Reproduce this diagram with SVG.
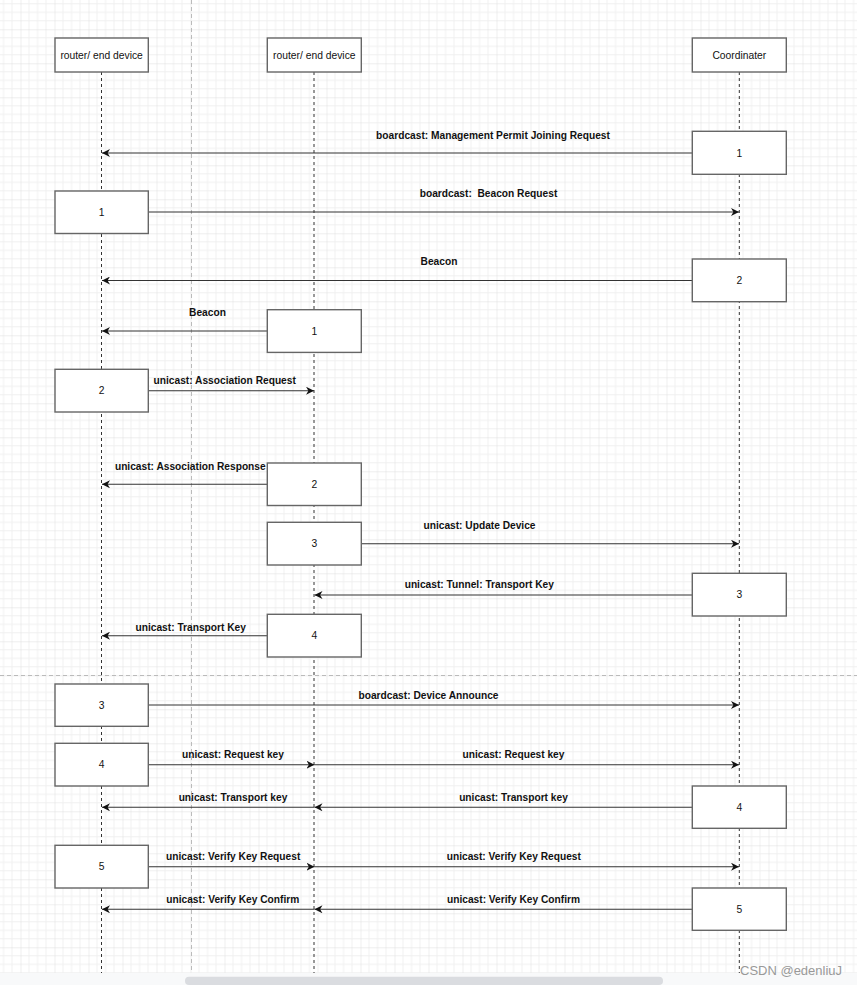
<svg xmlns="http://www.w3.org/2000/svg" width="857" height="985" viewBox="0 0 857 985">
<style>
.box{fill:#fff;stroke:#666;stroke-width:1.4}
.hdr{font-family:"Liberation Sans",Arial,sans-serif;font-size:10.3px;fill:#111;text-anchor:middle}
.num{font-family:"Liberation Sans",Arial,sans-serif;font-size:10.3px;fill:#111;text-anchor:middle}
.lbl{font-family:"Liberation Sans",Arial,sans-serif;font-size:10.2px;font-weight:bold;fill:#111;text-anchor:middle}
.life{stroke:#333;stroke-width:1;stroke-dasharray:3 3;fill:none}
.msg{stroke:#333;stroke-width:1.1;fill:none}
.page{stroke:#bbb;stroke-width:1;stroke-dasharray:4 3;fill:none}
</style>
<defs>
<pattern id="grid" patternUnits="userSpaceOnUse" x="20.5" y="29.3" width="34" height="34">
<path d="M8.5 0V34M17 0V34M25.5 0V34M0 8.5H34M0 17H34M0 25.5H34" stroke="#f0f0f0" stroke-width="1"/>
<path d="M0 0V34M0 0H34" stroke="#dedede" stroke-width="1"/>
</pattern>
<marker id="arr" viewBox="0 0 10 10" refX="10" refY="5" markerWidth="8" markerHeight="8" markerUnits="userSpaceOnUse" orient="auto">
<path d="M0 0L10 5L0 10L3 5Z" fill="#111"/>
</marker>
</defs>
<rect width="857" height="985" fill="#fff"/>
<rect width="857" height="973" fill="url(#grid)"/>
<line class="page" x1="191.5" y1="0" x2="191.5" y2="973"/>
<line class="page" x1="0" y1="675.5" x2="857" y2="675.5"/>

<g id="lifelines">
<line class="life" x1="101.5" y1="72" x2="101.5" y2="973"/>
<line class="life" x1="314" y1="72" x2="314" y2="973"/>
<line class="life" x1="739.3" y1="72" x2="739.3" y2="973"/>
</g>

<g id="connectors">
<line class="msg" x1="692" y1="153" x2="102" y2="153" marker-end="url(#arr)"/>
<text class="lbl" x="493" y="138.5">boardcast: Management Permit Joining Request</text>
<line class="msg" x1="148" y1="212" x2="739" y2="212" marker-end="url(#arr)"/>
<text class="lbl" x="488.5" y="197.3" xml:space="preserve">boardcast:  Beacon Request</text>
<line class="msg" x1="692" y1="280.5" x2="102" y2="280.5" marker-end="url(#arr)"/>
<text class="lbl" x="439" y="265.3">Beacon</text>
<line class="msg" x1="267" y1="331" x2="102" y2="331" marker-end="url(#arr)"/>
<text class="lbl" x="207.5" y="316.3">Beacon</text>
<line class="msg" x1="148" y1="390.7" x2="314" y2="390.7" marker-end="url(#arr)"/>
<text class="lbl" x="224.7" y="384.3">unicast: Association Request</text>
<line class="msg" x1="267" y1="484.3" x2="102" y2="484.3" marker-end="url(#arr)"/>
<text class="lbl" x="190.3" y="469.6">unicast: Association Response</text>
<line class="msg" x1="361" y1="543.7" x2="739" y2="543.7" marker-end="url(#arr)"/>
<text class="lbl" x="479.5" y="529.3">unicast: Update Device</text>
<line class="msg" x1="692" y1="595" x2="314.5" y2="595" marker-end="url(#arr)"/>
<text class="lbl" x="479.3" y="588.3">unicast: Tunnel: Transport Key</text>
<line class="msg" x1="267" y1="635.7" x2="102" y2="635.7" marker-end="url(#arr)"/>
<text class="lbl" x="190.7" y="631.3">unicast: Transport Key</text>
<line class="msg" x1="148" y1="705" x2="739" y2="705" marker-end="url(#arr)"/>
<text class="lbl" x="428.5" y="698.6">boardcast: Device Announce</text>
<line class="msg" x1="148" y1="764.7" x2="314.5" y2="764.7" marker-end="url(#arr)"/>
<line class="msg" x1="314.5" y1="764.7" x2="739" y2="764.7" marker-end="url(#arr)"/>
<text class="lbl" x="233" y="757.9">unicast: Request key</text>
<text class="lbl" x="513.5" y="757.9">unicast: Request key</text>
<line class="msg" x1="692" y1="807.3" x2="314.5" y2="807.3" marker-end="url(#arr)"/>
<line class="msg" x1="314.5" y1="807.3" x2="102" y2="807.3" marker-end="url(#arr)"/>
<text class="lbl" x="233" y="801.3">unicast: Transport key</text>
<text class="lbl" x="513.5" y="801.3">unicast: Transport key</text>
<line class="msg" x1="148" y1="866.7" x2="314.5" y2="866.7" marker-end="url(#arr)"/>
<line class="msg" x1="314.5" y1="866.7" x2="739" y2="866.7" marker-end="url(#arr)"/>
<text class="lbl" x="233.2" y="859.9">unicast: Verify Key Request</text>
<text class="lbl" x="513.8" y="859.9">unicast: Verify Key Request</text>
<line class="msg" x1="692" y1="909.3" x2="314.5" y2="909.3" marker-end="url(#arr)"/>
<line class="msg" x1="314.5" y1="909.3" x2="102" y2="909.3" marker-end="url(#arr)"/>
<text class="lbl" x="232.8" y="902.9">unicast: Verify Key Confirm</text>
<text class="lbl" x="513.5" y="902.9">unicast: Verify Key Confirm</text>
</g>

<g id="hdr-left"><rect class="box" x="55" y="38" width="93.3" height="34"/><text class="hdr" x="101.6" y="58.5">router/ end device</text></g>
<g id="hdr-mid"><rect class="box" x="267.3" y="38" width="94" height="34"/><text class="hdr" x="314.3" y="58.5">router/ end device</text></g>
<g id="hdr-coord"><rect class="box" x="692.3" y="38" width="94" height="34"/><text class="hdr" x="739.3" y="58.5">Coordinater</text></g>

<g id="c1"><rect class="box" x="692.3" y="131.3" width="94" height="43"/><text class="num" x="739.3" y="156.5">1</text></g>
<g id="l1"><rect class="box" x="55" y="191" width="93.3" height="42.5"/><text class="num" x="101.6" y="215.7">1</text></g>
<g id="c2"><rect class="box" x="692.3" y="259" width="94" height="42.7"/><text class="num" x="739.3" y="283.8">2</text></g>
<g id="m1"><rect class="box" x="267.3" y="309.7" width="94" height="42.7"/><text class="num" x="314.3" y="334.5">1</text></g>
<g id="l2"><rect class="box" x="55" y="369.3" width="93.3" height="42.7"/><text class="num" x="101.6" y="394.2">2</text></g>
<g id="m2"><rect class="box" x="267.3" y="463" width="94" height="42.5"/><text class="num" x="314.3" y="487.7">2</text></g>
<g id="m3"><rect class="box" x="267.3" y="522.3" width="94" height="42.7"/><text class="num" x="314.3" y="547.2">3</text></g>
<g id="c3"><rect class="box" x="692.3" y="573.3" width="94" height="42.7"/><text class="num" x="739.3" y="598.2">3</text></g>
<g id="m4"><rect class="box" x="267.3" y="614.3" width="94" height="42.7"/><text class="num" x="314.3" y="639.2">4</text></g>
<g id="l3"><rect class="box" x="55" y="684" width="93.3" height="42.3"/><text class="num" x="101.6" y="708.6">3</text></g>
<g id="l4"><rect class="box" x="55" y="743.3" width="93.3" height="42.7"/><text class="num" x="101.6" y="768.2">4</text></g>
<g id="c4"><rect class="box" x="692.3" y="786" width="94" height="42.3"/><text class="num" x="739.3" y="810.7">4</text></g>
<g id="l5"><rect class="box" x="55" y="845.3" width="93.3" height="42.7"/><text class="num" x="101.6" y="870.2">5</text></g>
<g id="c5"><rect class="box" x="692.3" y="888" width="94" height="42.3"/><text class="num" x="739.3" y="912.7">5</text></g>

<rect x="0" y="973" width="857" height="12" fill="#f8f9fa"/>
<rect x="185" y="976.7" width="478" height="8.3" rx="4" fill="#dadce0"/>
<text x="740" y="975" font-family="Liberation Sans,Arial,sans-serif" font-size="13" fill="#999">CSDN @edenliuJ</text>
</svg>
